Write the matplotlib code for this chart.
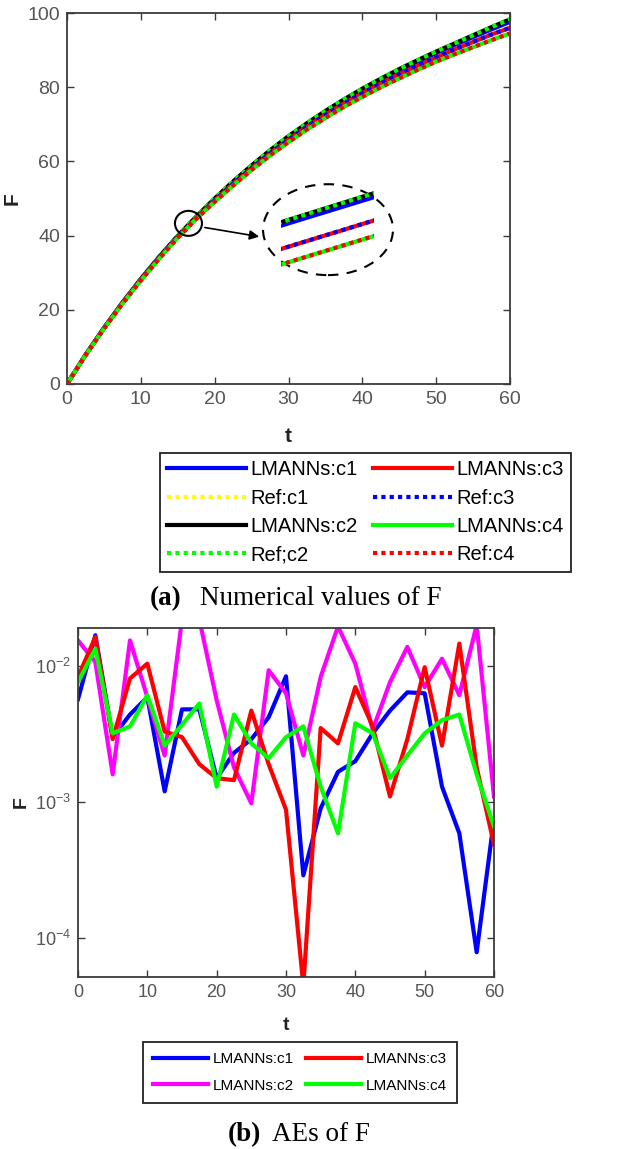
import matplotlib.pyplot as plt
from matplotlib.patches import Ellipse

plt.rcParams['font.family'] = ['Liberation Sans', 'DejaVu Sans']
plt.rcParams['mathtext.fontset'] = 'custom'
plt.rcParams['mathtext.rm'] = 'Liberation Sans'

t = [0, 2.5, 5, 7.5, 10, 12.5, 15, 17.5, 20, 22.5, 25, 27.5, 30,
     32.5, 35, 37.5, 40, 42.5, 45, 47.5, 50, 52.5, 55, 57.5, 60]

# numerical values of F (LMANNs and reference overlap)
F_c1 = [0, 7.8, 15.1, 21.9, 28.3, 34.3, 39.9, 45.0, 49.9, 54.5, 58.8, 62.8, 66.6,
        70.1, 73.4, 76.5, 79.3, 82.0, 84.5, 86.9, 89.2, 91.4, 93.5, 95.6, 97.6]
F_c2 = [0, 7.8, 15.1, 21.9, 28.3, 34.3, 39.9, 45.1, 50.0, 54.6, 58.9, 63.0, 66.8,
        70.3, 73.6, 76.7, 79.6, 82.3, 84.9, 87.3, 89.6, 91.8, 94.0, 96.2, 98.3]
F_c3 = [0, 7.8, 15.0, 21.8, 28.1, 34.1, 39.6, 44.7, 49.5, 54.0, 58.2, 62.2, 65.9,
        69.4, 72.6, 75.6, 78.4, 81.0, 83.5, 85.8, 88.0, 90.2, 92.2, 94.2, 96.0]
F_c4 = [0, 7.7, 14.9, 21.6, 27.9, 33.8, 39.4, 44.5, 49.1, 53.5, 57.7, 61.6, 65.2,
        68.6, 71.7, 74.7, 77.4, 80.0, 82.4, 84.7, 86.9, 88.9, 90.8, 92.7, 94.5]

# absolute errors
AE_c1 = [5.7e-3, 1.68e-2, 3.0e-3, 4.4e-3, 5.9e-3, 1.2e-3, 4.8e-3, 4.8e-3, 1.5e-3,
         2.3e-3, 2.9e-3, 4.2e-3, 8.4e-3, 2.9e-4, 9.0e-4, 1.67e-3, 2.0e-3, 3.2e-3,
         4.7e-3, 6.4e-3, 6.3e-3, 1.3e-3, 5.9e-4, 7.9e-5, 7.5e-4]
AE_c2 = [1.54e-2, 1.07e-2, 1.6e-3, 1.54e-2, 5.9e-3, 2.2e-3, 2.2e-2, 2.2e-2, 5.6e-3,
         1.8e-3, 9.8e-4, 9.3e-3, 6.3e-3, 2.2e-3, 8.3e-3, 1.95e-2, 1.04e-2, 3.4e-3,
         7.6e-3, 1.38e-2, 7.0e-3, 1.13e-2, 6.1e-3, 2.0e-2, 1.1e-3]
AE_c3 = [8.3e-3, 1.63e-2, 2.9e-3, 8.1e-3, 1.04e-2, 3.3e-3, 3.0e-3, 1.9e-3, 1.5e-3,
         1.45e-3, 4.7e-3, 1.9e-3, 8.8e-4, 4.5e-5, 3.5e-3, 2.7e-3, 7.0e-3, 3.6e-3,
         1.1e-3, 2.9e-3, 9.8e-3, 2.6e-3, 1.46e-2, 1.8e-3, 4.9e-4]
AE_c4 = [7.6e-3, 1.34e-2, 3.2e-3, 3.6e-3, 6.1e-3, 2.6e-3, 3.7e-3, 5.3e-3, 1.3e-3,
         4.4e-3, 2.7e-3, 2.1e-3, 3.0e-3, 3.6e-3, 1.3e-3, 5.9e-4, 3.8e-3, 3.2e-3,
         1.5e-3, 2.2e-3, 3.2e-3, 4.0e-3, 4.4e-3, 1.6e-3, 6.6e-4]

W, H = 629, 1149
fig = plt.figure(figsize=(W / 100, H / 100), dpi=100)

def rect(x0, y0, x1, y1):
    return [x0 / W, 1 - y1 / H, (x1 - x0) / W, (y1 - y0) / H]

def style(ax, size):
    for s in ax.spines.values():
        s.set_color('#3a3a3a')
        s.set_linewidth(1.3)
    ax.tick_params(direction='in', top=True, right=True, length=5, width=1,
                   color='#3a3a3a', labelsize=size, labelcolor='#555555', pad=5)

dots = (0, (1, 1))
series = [(F_c1, 'LMANNs:c1', 'Ref:c1', '#0000ff', '#ffff00'),
          (F_c2, 'LMANNs:c2', 'Ref;c2', '#000000', '#00ff00'),
          (F_c3, 'LMANNs:c3', 'Ref:c3', '#ff0000', '#0000ff'),
          (F_c4, 'LMANNs:c4', 'Ref:c4', '#00ff00', '#ff0000')]

def draw(ax):
    hs = []
    z = 2.0
    for i, (vals, lab, rlab, c, rc) in enumerate(series):
        # yellow reference of c1 sits under the blue curve
        zs, zd = (z + 0.1, z) if i == 0 else (z, z + 0.1)
        h1, = ax.plot(t, vals, color=c, lw=3, label=lab, zorder=zs)
        h2, = ax.plot(t, vals, color=rc, lw=3, ls=dots, label=rlab, zorder=zd)
        hs += [h1, h2]
        z += 0.2
    return hs

# ---- (a) numerical values
ax1 = fig.add_axes(rect(67, 13, 510, 384))
handles = draw(ax1)
ax1.set_xlim(0, 60)
ax1.set_ylim(0, 100)
ax1.set_xticks(range(0, 61, 10))
ax1.set_yticks(range(0, 101, 20))
style(ax1, 14)
ax1.set_xlabel('t', fontsize=15, fontweight='bold', color='#222222')
ax1.set_ylabel('F', fontsize=15, fontweight='bold', color='#222222')
ax1.xaxis.set_label_coords(0.5, -0.115)
ax1.yaxis.set_label_coords(-0.103, 0.5)

# zoom marks
ax1.add_patch(Ellipse((16.45, 43.3), 3.66, 6.74, fill=False, ec='k', lw=1.5, zorder=5))
ax1.add_patch(Ellipse((35.35, 41.6), 17.6, 24.5, fill=False, ec='k', lw=1.5,
                      ls=(0, (5, 4)), zorder=5))
ax1.annotate('', xy=(26.4, 39.6), xytext=(18.3, 42.3),
             arrowprops=dict(arrowstyle='-|>', color='k', lw=1.2, mutation_scale=14))
ins = ax1.inset_axes([29.0, 29.4, 12.6, 24.5], transform=ax1.transData)
draw(ins)
ins.set_xlim(16.11, 16.29)
ins.set_ylim(41.53, 42.70)
ins.axis('off')

fig.legend(handles=handles, ncol=2, loc='upper left',
           bbox_to_anchor=(160 / W, 1 - 453 / H), fontsize=14.5,
           handlelength=3.9, handletextpad=0.2, columnspacing=0.8,
           labelspacing=0.46, borderpad=0.37, fancybox=False, framealpha=1,
           edgecolor='#222222', borderaxespad=0).get_frame().set_linewidth(1.3)

fig.text(150 / W, 1 - 605 / H, '(a)', fontsize=19.5, fontweight='bold',
         family='Liberation Serif', ha='left', va='baseline')
fig.text(200 / W, 1 - 605 / H, 'Numerical values of F', fontsize=19.5,
         family='Liberation Serif', ha='left', va='baseline')

# ---- (b) absolute errors
ax2 = fig.add_axes(rect(78, 628, 494, 977))
for vals, lab, c in [(AE_c1, 'LMANNs:c1', '#0000ff'), (AE_c2, 'LMANNs:c2', '#ff00ff'),
                     (AE_c3, 'LMANNs:c3', '#ff0000'), (AE_c4, 'LMANNs:c4', '#00ff00')]:
    ax2.plot(t, vals, color=c, lw=3, label=lab)
ax2.set_yscale('log')
ax2.set_xlim(0, 60)
ax2.set_ylim(5.2e-5, 1.9e-2)
ax2.set_xticks(range(0, 61, 10))
ax2.set_yticks([1e-4, 1e-3, 1e-2])
ax2.minorticks_off()
style(ax2, 13)
ax2.set_xlabel('t', fontsize=14, fontweight='bold', color='#222222')
ax2.set_ylabel('F', fontsize=14, fontweight='bold', color='#222222')
ax2.xaxis.set_label_coords(0.5, -0.115)
ax2.yaxis.set_label_coords(-0.115, 0.5)

ax2.legend(ncol=2, loc='upper left', bbox_to_anchor=(143 / W, 1 - 1042 / H),
           bbox_transform=fig.transFigure, fontsize=11, handlelength=3.6,
           handletextpad=0.3, columnspacing=0.8, labelspacing=0.82, borderpad=0.67,
           fancybox=False, framealpha=1, edgecolor='#222222',
           borderaxespad=0).get_frame().set_linewidth(1.3)

fig.text(228 / W, 1 - 1141 / H, '(b)', fontsize=19.5, fontweight='bold',
         family='Liberation Serif', ha='left', va='baseline')
fig.text(272 / W, 1 - 1141 / H, 'AEs of F', fontsize=19.5,
         family='Liberation Serif', ha='left', va='baseline')

fig.savefig('out.png', dpi=100)
